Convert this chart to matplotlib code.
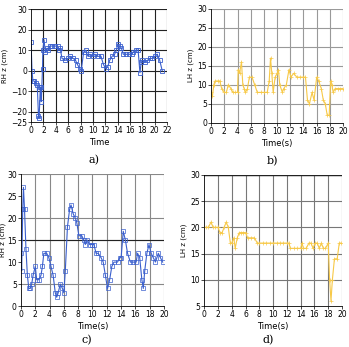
import matplotlib.pyplot as plt
import numpy as np

blue = '#3a5fcd'
yellow = '#f7c948'

# panel a) RH z
ta = [0, 0.15, 0.3, 0.5, 0.8, 1.0, 1.2, 1.3, 1.5, 1.6, 1.65, 1.85, 1.9, 2.1, 2.3, 2.6, 2.8, 3.0, 3.4, 3.8, 4.3,
      4.5, 4.7, 5.0, 5.5, 6.0, 6.3, 6.8, 7.2, 7.5, 7.9, 8.1, 8.5, 8.8, 9.2, 9.5, 10.0, 10.3, 10.8, 11.3, 11.7,
      12.1, 12.4, 12.7, 13.1, 13.5, 13.8, 14.0, 14.3, 14.6, 14.9, 15.4, 15.9, 16.3, 16.5, 16.9, 17.3, 17.6,
      17.8, 18.0, 18.4, 18.8, 19.2, 19.6, 20.0, 20.4, 20.8, 21.2]
ya = [14, 0, -5, -5, -6, -7, -22, -23, -8, -8, -15, 1, 10, 15, 9, 11, 10, 12, 12, 12, 12,
      10, 11, 6, 5, 6, 7, 6, 5, 3, 1, 0, 9, 10, 7, 8, 7, 8, 7, 7, 3,
      1, 2, 5, 7, 8, 10, 13, 12, 11, 8, 8, 8, 8, 9, 10, 10, -1,
      4, 5, 4, 5, 6, 6, 7, 8, 5, 0]

# panel b) LH z
tb = [0, 0.2, 0.4, 0.6, 1.0, 1.3, 1.6, 2.0, 2.3, 2.6, 3.0, 3.3, 3.6, 4.0, 4.1, 4.3, 4.6, 4.8, 5.0, 5.2, 5.5,
      5.8, 6.2, 6.6, 7.0, 7.5, 8.0, 8.5, 8.8, 9.0, 9.2, 9.4, 9.7, 10.0, 10.2, 10.4, 10.8, 11.0, 11.4, 11.8,
      12.1, 12.5, 13.0, 13.5, 14.0, 14.3, 14.6, 14.9, 15.3, 15.6, 16.0, 16.3, 16.7, 17.0, 17.3, 17.6, 17.9,
      18.1, 18.3, 18.5, 18.8, 19.2, 19.6, 20.0]
yb = [8, 7, 10, 11, 11, 11, 9, 8, 8, 10, 9, 8, 8, 8, 14, 13, 16, 10, 9, 8, 9,
      12, 12, 10, 8, 8, 8, 8, 11, 17, 13, 8, 12, 13, 14, 10, 8, 9, 10, 14,
      12, 13, 12, 12, 12, 12, 6, 5, 8, 6, 12, 11, 9, 6, 5, 2, 2,
      11, 10, 8, 9, 9, 9, 9]

# panel c) RH z
tc = [0, 0.1, 0.25, 0.35, 0.5, 0.7, 0.9, 1.1, 1.3, 1.5, 1.7, 2.0, 2.2, 2.5, 2.8, 3.0, 3.2, 3.6, 3.9, 4.2,
      4.5, 4.8, 5.0, 5.2, 5.5, 5.8, 6.0, 6.2, 6.5, 6.8, 7.0, 7.3, 7.6, 7.8, 8.1, 8.5, 8.8, 9.0, 9.3, 9.6,
      9.9, 10.2, 10.5, 10.8, 11.2, 11.5, 11.8, 12.1, 12.4, 12.7, 13.0, 13.5, 13.8, 14.0, 14.3, 14.6, 14.9,
      15.3, 15.7, 16.1, 16.3, 16.6, 16.9, 17.1, 17.3, 17.6, 17.9, 18.2, 18.5, 18.8, 19.2, 19.5, 19.8]
yc = [12, 8, 22, 27, 22, 13, 7, 4, 4, 5, 7, 9, 6, 6, 7, 9, 12, 12, 11, 9,
      7, 3, 2, 3, 5, 4, 3, 8, 18, 22, 23, 21, 20, 19, 16, 16, 15, 14, 15, 14,
      14, 14, 12, 12, 11, 10, 7, 4, 6, 9, 10, 10, 11, 11, 17, 15, 12,
      10, 10, 10, 12, 11, 6, 4, 8, 12, 14, 12, 11, 10, 12, 11, 10]

# panel d) LH z
td = [0, 0.3, 0.6, 1.0, 1.3, 1.6, 2.0, 2.3, 2.6, 2.9, 3.2, 3.5, 3.8, 4.0, 4.3, 4.5, 4.8, 5.1, 5.4, 5.7,
      6.0, 6.3, 6.8, 7.3, 7.7, 8.0, 8.5, 9.0, 9.5, 10.0, 10.5, 11.0, 11.5, 12.0, 12.3, 12.5, 13.0, 13.5,
      14.0, 14.2, 14.4, 14.8, 15.2, 15.5, 15.8, 16.1, 16.4, 16.7, 17.0, 17.3, 17.6, 18.0, 18.2, 18.4,
      18.6, 18.9, 19.3, 19.6, 19.8]
yd = [20, 20, 20, 21, 20, 20, 20, 19, 19, 20, 21, 20, 17, 17, 18, 16, 18, 19, 19, 19,
      19, 18, 18, 18, 17, 17, 17, 17, 17, 17, 17, 17, 17, 17, 17, 16, 16, 16,
      16, 17, 16, 16, 17, 17, 16, 17, 17, 16, 17, 16, 16, 17, 10, 6,
      10, 14, 14, 17, 17]

fig = plt.figure(figsize=(3.49, 3.47), dpi=100)


def style(ax, xmax, ylo, yhi, yticks, hlines, ylabel, xlabel, gridc, lpad=2):
    ax.set_xlim(0, xmax)
    ax.set_ylim(ylo, yhi)
    ax.set_xticks(np.arange(0, xmax + 1, 2))
    ax.set_yticks(yticks)
    for s in ['top', 'right']:
        ax.spines[s].set_visible(False)
    for s in ['left', 'bottom']:
        ax.spines[s].set_linewidth(0.6)
    for x in np.arange(2, xmax + 1, 2):
        ax.axvline(x, color=gridc, lw=0.8, zorder=0)
    for h in hlines:
        ax.axhline(h, color=gridc, lw=0.8, zorder=0)
    ax.tick_params(labelsize=5.5, length=2, width=0.5, pad=1)
    ax.set_ylabel(ylabel, fontsize=5, labelpad=lpad)
    ax.set_xlabel(xlabel, fontsize=6, labelpad=2)


ax1 = fig.add_axes([0.089, 0.648, 0.39, 0.326])
ax1.plot(ta, ya, color=blue, lw=0.8, marker='s', ms=3, mfc='none', mew=0.6)
style(ax1, 22, -25, 30, [-25, -20, -10, 0, 10, 20, 30], [-20, -10, 0, 10, 20, 30],
      'RH z (cm)', 'Time', '#222222')

ax2 = fig.add_axes([0.605, 0.646, 0.378, 0.329])
ax2.plot(tb, yb, color=yellow, lw=0.8, marker='+', ms=3, mew=0.5)
style(ax2, 20, 0, 30, [0, 5, 10, 15, 20, 25, 30], [5, 10, 15, 20, 25, 30],
      'LH z (cm)', 'Time(s)', '#999999')

ax3 = fig.add_axes([0.060, 0.118, 0.41, 0.38])
ax3.plot(tc, yc, color=blue, lw=0.8, marker='s', ms=2.5, mfc='none', mew=0.5)
style(ax3, 20, 0, 30, [0, 5, 10, 15, 20, 25, 30], [5, 15, 20, 30],
      'RH z (cm)', 'Time(s)', '#888888', lpad=0.5)
ax3.axhline(15, color='#222222', lw=0.8, zorder=0)

ax4 = fig.add_axes([0.585, 0.118, 0.395, 0.378])
ax4.plot(td, yd, color=yellow, lw=0.8, marker='+', ms=3, mew=0.5)
style(ax4, 20, 5, 30, [5, 10, 15, 20, 25, 30], [10, 15, 20, 25, 30],
      'LH z (cm)', 'Time(s)', '#777777')
ax4.axhline(30, color='#222222', lw=1.0, zorder=0)

for ax, lab in [(ax1, 'a)'), (ax2, 'b)'), (ax3, 'c)'), (ax4, 'd)')]:
    ax.text(0.42, -0.36 if ax in (ax1, ax2) else -0.285, lab, transform=ax.transAxes,
            fontsize=8, family='DejaVu Serif')

fig.savefig('out.png', dpi=100)
